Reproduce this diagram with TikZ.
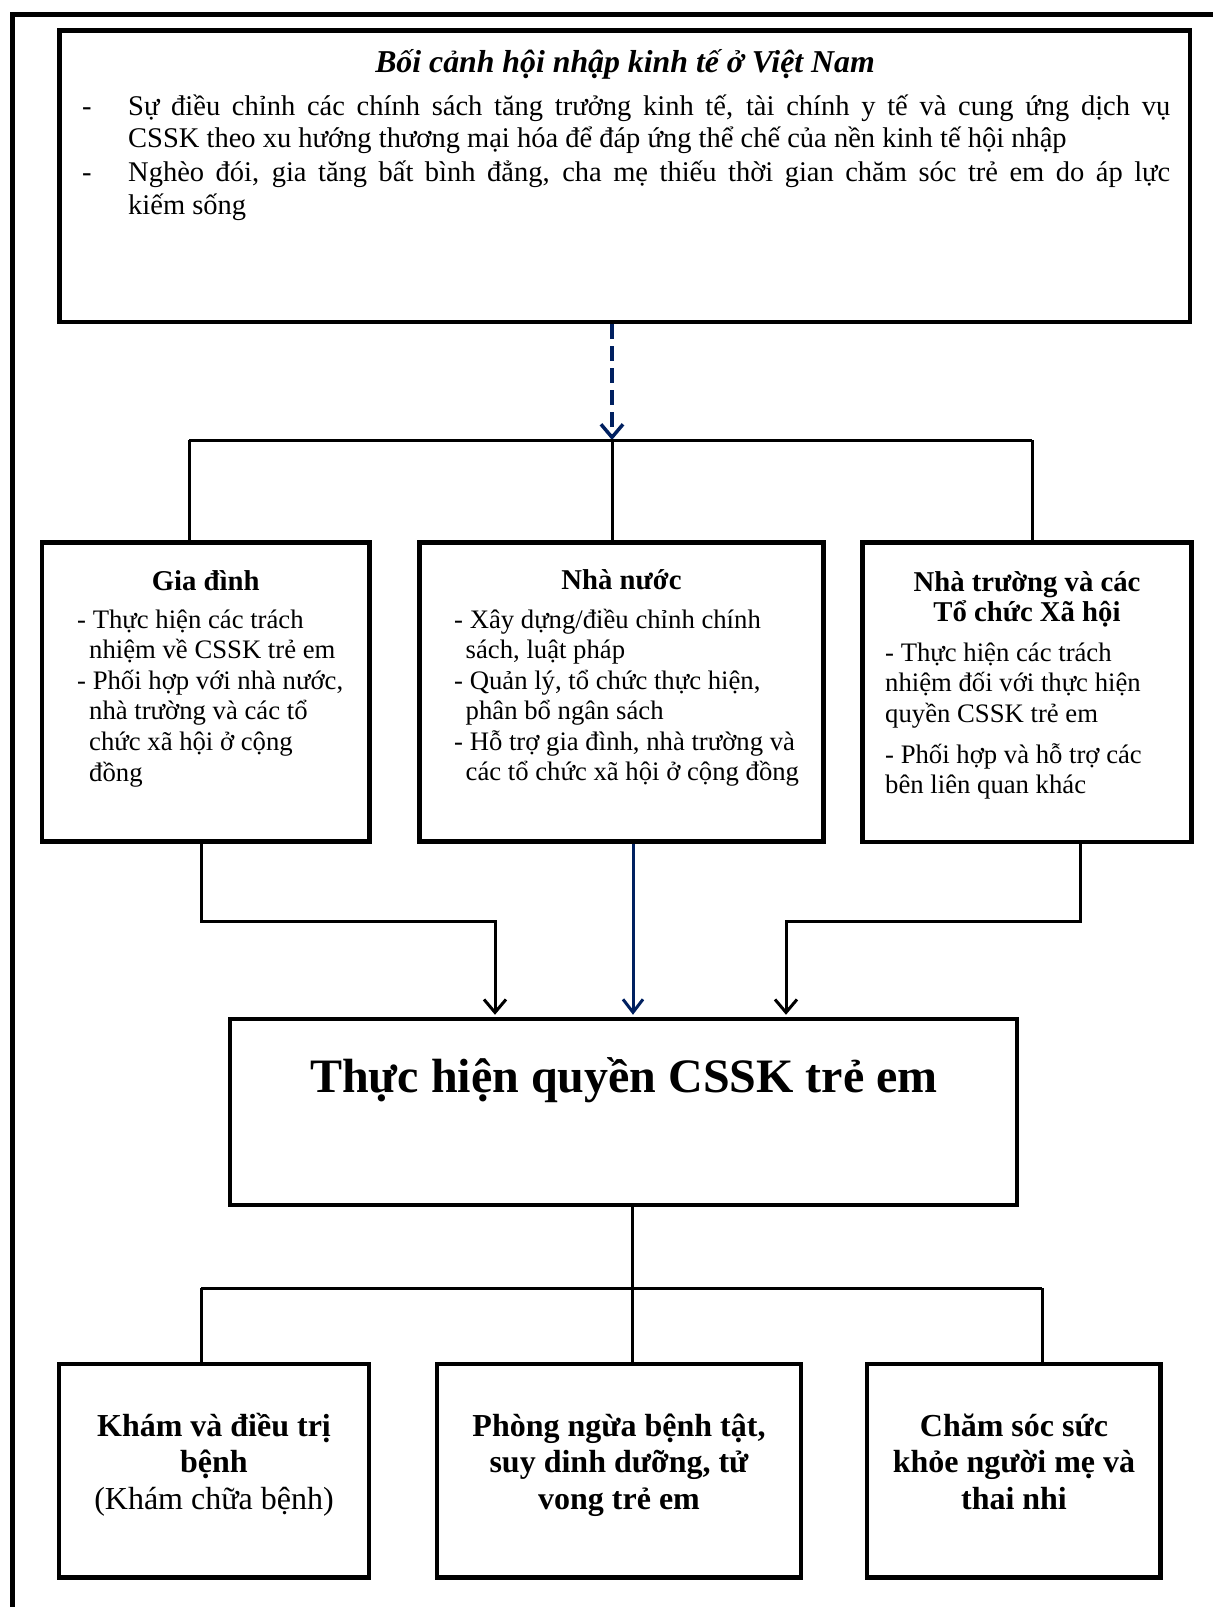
\documentclass[tikz,border=0pt]{standalone}
\usepackage{fontspec}
\setmainfont{Liberation Serif}
\usetikzlibrary{arrows.meta}
\definecolor{navy}{RGB}{0,32,96}
\hyphenpenalty=10000
\exhyphenpenalty=10000
\tikzset{
  frameline/.style={line width=5pt},
  boxx/.style={draw, line width=4.5pt, inner sep=0pt},
  conn/.style={line width=3pt},
  arr/.style={conn, -{Straight Barb[length=13pt,width=22pt]}, shorten >=2pt},
  navyarr/.style={line width=3pt, draw=navy, -{Straight Barb[length=13pt,width=20pt]}, shorten >=2pt},
  dasharr/.style={line width=3.5pt, draw=navy, dash pattern=on 15pt off 7pt, -{Straight Barb[length=13pt,width=22pt]}},
  txt/.style={inner sep=0pt, anchor=base west},
  ctxt/.style={inner sep=0pt, anchor=base},
}
\begin{document}
\begin{tikzpicture}[x=1pt,y=-1pt]
\useasboundingbox (0,0) rectangle (1213,1607);
% outer frame
\coordinate (fa) at (1213,14);
\coordinate (fb) at (12,14);
\coordinate (fc) at (12,1607);
\draw[frameline] (fa) -- (fb) -- (fc);

% boxes
\node[boxx, minimum width=1130.5pt, minimum height=291.5pt] (top) at (624.75,176.25) {};
\node[boxx, minimum width=327.5pt, minimum height=299pt] (fam) at (205.75,692) {};
\node[boxx, minimum width=404pt, minimum height=299pt] (state) at (621.5,692) {};
\node[boxx, minimum width=329pt, minimum height=299.5pt] (school) at (1027,692.25) {};
\node[boxx, minimum width=787pt, minimum height=186pt] (center) at (623.5,1112) {};
\node[boxx, minimum width=310pt, minimum height=213.5pt] (bleft) at (214,1470.75) {};
\node[boxx, minimum width=364pt, minimum height=213.5pt] (bmid) at (619,1470.75) {};
\node[boxx, minimum width=293.5pt, minimum height=213.5pt] (bright) at (1013.75,1470.75) {};

% top box text
\node[ctxt] (toptitle) at (625,72.5) {\fontsize{31.8}{35}\selectfont\bfseries\itshape Bối cảnh hội nhập kinh tế ở Việt Nam};
\node[txt] (dash1) at (82,115) {\fontsize{28.5}{33}\selectfont -};
\node[txt] (item1) at (128,115) {\parbox[t]{1042pt}{\fontsize{28.5}{32.5}\selectfont Sự điều chỉnh các chính sách tăng trưởng kinh tế, tài chính y tế và cung ứng dịch vụ\linebreak CSSK theo xu hướng thương mại hóa để đáp ứng thể chế của nền kinh tế hội nhập}};
\node[txt] (dash2) at (82,181) {\fontsize{28.5}{33}\selectfont -};
\node[txt] (item2) at (128,181) {\parbox[t]{1042pt}{\fontsize{28.5}{33.5}\selectfont Nghèo đói, gia tăng bất bình đẳng, cha mẹ thiếu thời gian chăm sóc trẻ em do áp lực\linebreak kiếm sống}};

% middle boxes text
\node[ctxt] (famt) at (205.75,590) {\fontsize{28.7}{30}\selectfont\bfseries Gia đình};
\node[txt] (fami) at (77,628) {\parbox[t]{290pt}{\fontsize{26.7}{30.6}\selectfont\raggedright
  \hangindent=12pt\hangafter=1 - Thực hiện các trách\newline nhiệm về CSSK trẻ em\par
  \hangindent=12pt\hangafter=1 - Phối hợp với nhà nước,\newline nhà trường và các tổ\newline chức xã hội ở cộng\newline đồng}};

\node[ctxt] (statet) at (621.5,589) {\fontsize{28.7}{30}\selectfont\bfseries Nhà nước};
\node[txt] (statei) at (454,628) {\parbox[t]{365pt}{\fontsize{26.7}{30.5}\selectfont\raggedright
  \hangindent=11.5pt\hangafter=1 - Xây dựng/điều chỉnh chính\newline sách, luật pháp\par
  \hangindent=11.5pt\hangafter=1 - Quản lý, tổ chức thực hiện,\newline phân bổ ngân sách\par
  \hangindent=11.5pt\hangafter=1 - Hỗ trợ gia đình, nhà trường và\newline các tổ chức xã hội ở cộng đồng}};

\node[ctxt] (schoolt) at (1027,591) {\parbox[t]{320pt}{\centering\fontsize{28.7}{30.5}\selectfont\bfseries Nhà trường và các\\Tổ chức Xã hội}};
\node[txt] (schooli) at (885,661) {\parbox[t]{300pt}{\fontsize{26.7}{30.5}\selectfont\raggedright
  - Thực hiện các trách\newline nhiệm đối với thực hiện\newline quyền CSSK trẻ em\par\vspace{10.5pt}
  - Phối hợp và hỗ trợ các\newline bên liên quan khác}};

% central title
\node[ctxt] (ctitle) at (624,1092) {\fontsize{48}{55}\selectfont\bfseries Thực hiện quyền CSSK trẻ em};

% bottom boxes text
\node[ctxt] (blt) at (214,1436) {\parbox[t]{300pt}{\centering\fontsize{32}{36.8}\selectfont\textbf{Khám và điều trị}\\\textbf{bệnh}\\(Khám chữa bệnh)}};
\node[ctxt] (bmt) at (619,1436) {\parbox[t]{360pt}{\centering\fontsize{32}{36.8}\selectfont\bfseries Phòng ngừa bệnh tật,\\suy dinh dưỡng, tử\\vong trẻ em}};
\node[ctxt] (brt) at (1014,1436) {\parbox[t]{290pt}{\centering\fontsize{32}{36.8}\selectfont\bfseries Chăm sóc sức\\khỏe người mẹ và\\thai nhi}};

% connectors: top to middle row
\coordinate (hb) at (612,440);
\coordinate (hl) at (189,440);
\coordinate (hr) at (1032,440);
\draw[dasharr] (hb |- top.south) -- (hb);
\draw[conn] (hl) -- (hr);
\draw[conn] (hl) -- (hl |- fam.north);
\draw[conn] (hb) -- (hb |- state.north);
\draw[conn] (hr) -- (hr |- school.north);

% connectors: middle row to center
\coordinate (f1) at (201,921);
\coordinate (f2) at (495,921);
\draw[arr] (f1 |- fam.south) -- (f1) -- (f2) -- (f2 |- center.north);
\coordinate (s1) at (1080,921);
\coordinate (s2) at (786,921);
\draw[arr] (s1 |- school.south) -- (s1) -- (s2) -- (s2 |- center.north);
\coordinate (m1) at (633,921);
\draw[navyarr] (m1 |- state.south) -- (m1 |- center.north);

% connectors: center to bottom row
\coordinate (b0) at (632,1288);
\coordinate (bl) at (201,1288);
\coordinate (br) at (1042,1288);
\draw[conn] (b0 |- center.south) -- (b0 |- bmid.north);
\draw[conn] (bl) -- (br);
\draw[conn] (bl) -- (bl |- bleft.north);
\draw[conn] (br) -- (br |- bright.north);
\end{tikzpicture}
\end{document}
